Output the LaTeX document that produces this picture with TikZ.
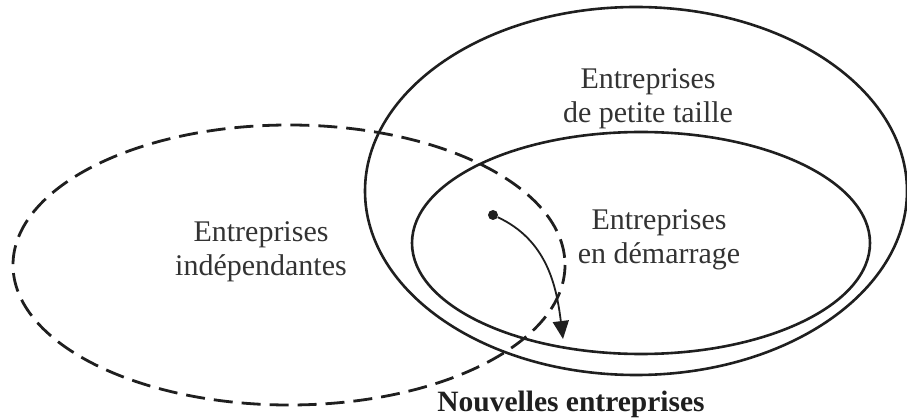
\documentclass[tikz,border=0pt]{standalone}
\usepackage{fontspec}
\setmainfont{Liberation Serif}
\usetikzlibrary{arrows.meta}
\begin{document}
\begin{tikzpicture}[x=1pt,y=-1pt,
  solidring/.style={line width=2.6pt, draw=black!88},
  dashring/.style={line width=2.8pt, draw=black!88, dash pattern=on 19pt off 9pt},
  lbl/.style={align=center, font=\fontsize{30}{34}\selectfont, text=black!80, inner sep=0pt},
  boldlbl/.style={font=\fontsize{29.5}{34}\selectfont\bfseries, text=black!88, inner sep=0pt},
  dotstyle/.style={circle, fill=black!88, minimum size=10pt, inner sep=0pt},
  flow/.style={line width=1.8pt, draw=black!88, -{Triangle[length=18pt,width=16pt]}}]
\useasboundingbox (0,0) rectangle (907,419);
% rings
\draw[solidring] (636,191) ellipse [x radius=271, y radius=184];
\draw[solidring] (641,243) ellipse [x radius=229, y radius=111];
\draw[dashring] (289,265) ellipse [x radius=276, y radius=140];
% labels
\node[lbl] (small) at (648,99) {Entreprises\\de petite taille};
\node[lbl] (start) at (659,240) {Entreprises\\en démarrage};
\node[lbl] (indep) at (261,252) {Entreprises\\indépendantes};
\node[boldlbl] (new) at (571,404) {Nouvelles entreprises};
% arrow
\node[dotstyle] (dot) at (493,215) {};
\coordinate (tip) at (563,339);
\draw[flow] (dot) to[out=-25, in=97] (tip);
\end{tikzpicture}
\end{document}
